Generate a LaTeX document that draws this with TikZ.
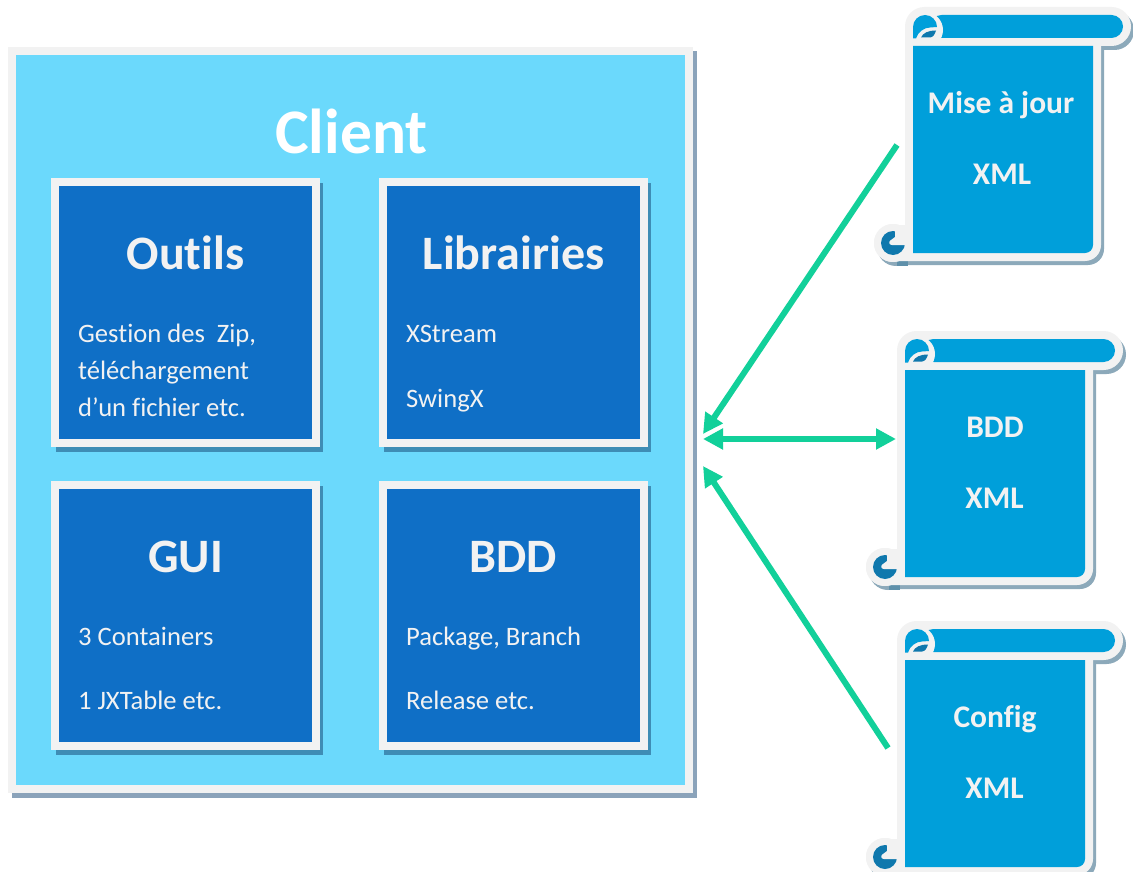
\documentclass[tikz,border=0pt]{standalone}
\usepackage{fontspec}
\setmainfont[RawFeature=-liga]{Carlito}
\usetikzlibrary{arrows.meta}
\definecolor{framegray}{HTML}{F2F2F2}
\definecolor{skyfill}{HTML}{6BD9FC}
\definecolor{boxblue}{HTML}{0F6FC6}
\definecolor{scrollblue}{HTML}{009FDA}
\definecolor{curldark}{HTML}{0F78AD}
\definecolor{outshadow}{HTML}{8BA3BA}
\definecolor{boxshadow}{HTML}{3E8DB5}
\definecolor{scrollshadow}{HTML}{8CA9BA}
\definecolor{curlshadow}{HTML}{5F90AA}
\definecolor{arrowgreen}{HTML}{12D09A}
\tikzset{
  panelbox/.style={rectangle,draw=framegray,line width=8pt,fill=boxblue,inner sep=0pt,outer sep=0pt,
    minimum width=261pt,minimum height=261pt},
  clientbox/.style={rectangle,draw=framegray,line width=8pt,fill=skyfill,inner sep=0pt,outer sep=0pt,
    minimum width=677pt,minimum height=738pt},
  bigtitle/.style={anchor=base,text=white,font=\fontsize{63.5}{70}\selectfont\bfseries,inner sep=0pt},
  boxtitle/.style={anchor=base,text=framegray,font=\fontsize{48}{52}\selectfont\bfseries,inner sep=0pt},
  boxtext/.style={anchor=base west,text=framegray,font=\fontsize{26.6}{30}\selectfont,inner sep=0pt},
  scrolltext/.style={anchor=base,text=framegray,font=\fontsize{31.5}{34}\selectfont\bfseries,inner sep=0pt},
  flow/.style={arrowgreen,line width=6pt},
  flowtip/.style={{Triangle[length=20pt,width=20pt]}-},
  flowtips/.style={{Triangle[length=20pt,width=20pt]}-{Triangle[length=20pt,width=20pt]}},
}
\newcommand{\panelat}[3]{% name, centre x, centre y
  \fill[boxshadow] (#2+124.5,#3-129.5) rectangle (#2+137.5,#3+139.5);
  \fill[boxshadow] (#2-129.5,#3+125) rectangle (#2+137.5,#3+139.5);
  \node[panelbox] (#1) at (#2,#3) {};
}
\newcommand{\scrolloutline}{%
  \fill[rounded corners=19.5pt] (905,7) rectangle (1131,46);
  \fill (905,26) -- (1101,26) -- (1101,245) arc[start angle=0,end angle=90,radius=16] -- (890,261) -- (905,240) -- cycle;
  \fill (893,243) circle[radius=19];
  \fill (925,30) circle[radius=18];
}
\newcommand{\scrollat}[6]{% name, dx, dy, text x, text y, text
  \begin{scope}[shift={(#2,#3)}]
    \begin{scope}[shift={(3,4)},scrollshadow]\scrolloutline\end{scope}
    \fill[curlshadow] (897,258) rectangle (908,265.5);
    \begin{scope}[framegray]\scrolloutline\end{scope}
    \fill[scrollblue,rounded corners=11.5pt] (930,15) rectangle (1123,38);
    \fill[framegray] (925,30) circle[radius=18];
    \fill[scrollblue] (913,38.5) -- (913,27) arc[start angle=180,end angle=360,radius=12]
      -- (930,27.5) .. controls (924,27.5) and (918,32) .. (916,38.5) -- cycle;
    \fill[curldark] (921,37.5) .. controls (923,33) and (928,30.5) .. (936,30.5) .. controls (935,34) and (933,37.5) .. (930,37.5) -- cycle;
    \fill[scrollblue] (913,46) -- (1093,46) -- (1093,245) arc[start angle=0,end angle=90,radius=8] -- (913,253) -- cycle;
    \fill[framegray] (893,243) circle[radius=19];
    \fill[framegray] (905,224) rectangle (913,253);
    \fill[curldark] (893,243) circle[radius=12];
    \fill[framegray] (895,225) -- (910,225) -- (910,245) -- (892,245) .. controls (888.5,245) and (888.5,241) .. (891,240) -- (895,237) -- cycle;
    \node[scrolltext] (#1a) at (#4,#5) {#6};
  \end{scope}
}
\begin{document}
\begin{tikzpicture}[x=1pt,y=-1pt]
  \useasboundingbox (0,0) rectangle (1133,872);
  \clip (0,0) rectangle (1133,872);
  \fill[white] (0,0) rectangle (1133,872);

  % client
  \fill[outshadow] (12,51) rectangle (697,798);
  \node[clientbox] (client) at (350.5,420) {};
  \node[bigtitle] (clienttitle) at (351.5,153.5) {Client};

  \panelat{outils}{185.5}{312.5}
  \panelat{libs}{513.5}{312.5}
  \panelat{gui}{185.5}{615.5}
  \panelat{bdd}{513.5}{615.5}

  \node[boxtitle] (outilst) at (185.5,269) {Outils};
  \node[boxtext] (o1) at (78,342) {Gestion des\ \ Zip,};
  \node[boxtext] (o2) at (78,379) {téléchargement};
  \node[boxtext] (o3) at (78,416) {d’un fichier etc.};

  \node[boxtitle] (libst) at (513.5,269) {Librairies};
  \node[boxtext] (l1) at (406,342) {XStream};
  \node[boxtext] (l2) at (406,407) {SwingX};

  \node[boxtitle] (guit) at (185.5,572) {GUI};
  \node[boxtext] (g1) at (78,645) {3 Containers};
  \node[boxtext] (g2) at (78,709) {1 JXTable etc.};

  \node[boxtitle] (bddt) at (513.5,572) {BDD};
  \node[boxtext] (b1) at (406,645) {Package, Branch};
  \node[boxtext] (b2) at (406,709) {Release etc.};

  % scrolls
  \scrollat{majs}{0}{0}{1001}{114}{Mise à jour}
  \node[scrolltext] (majx) at (1002,185) {XML};
  \scrollat{bdds}{-8}{324}{1003}{113}{BDD}
  \node[scrolltext] (bddx) at (994.5,508) {XML};
  \scrollat{cfgs}{-8}{614}{1003}{113}{Config}
  \node[scrolltext] (cfgx) at (994.5,798) {XML};

  % connectors
  \coordinate (t1) at (703,434);
  \coordinate (s1) at (897,145);
  \coordinate (t2) at (703,439);
  \coordinate (s2) at (896,439);
  \coordinate (t3) at (703,466);
  \coordinate (s3) at (888,748);
  \draw[flow,flowtip] (t1) -- (s1);
  \draw[flow,flowtips] (t2) -- (s2);
  \draw[flow,flowtip] (t3) -- (s3);
\end{tikzpicture}
\end{document}
